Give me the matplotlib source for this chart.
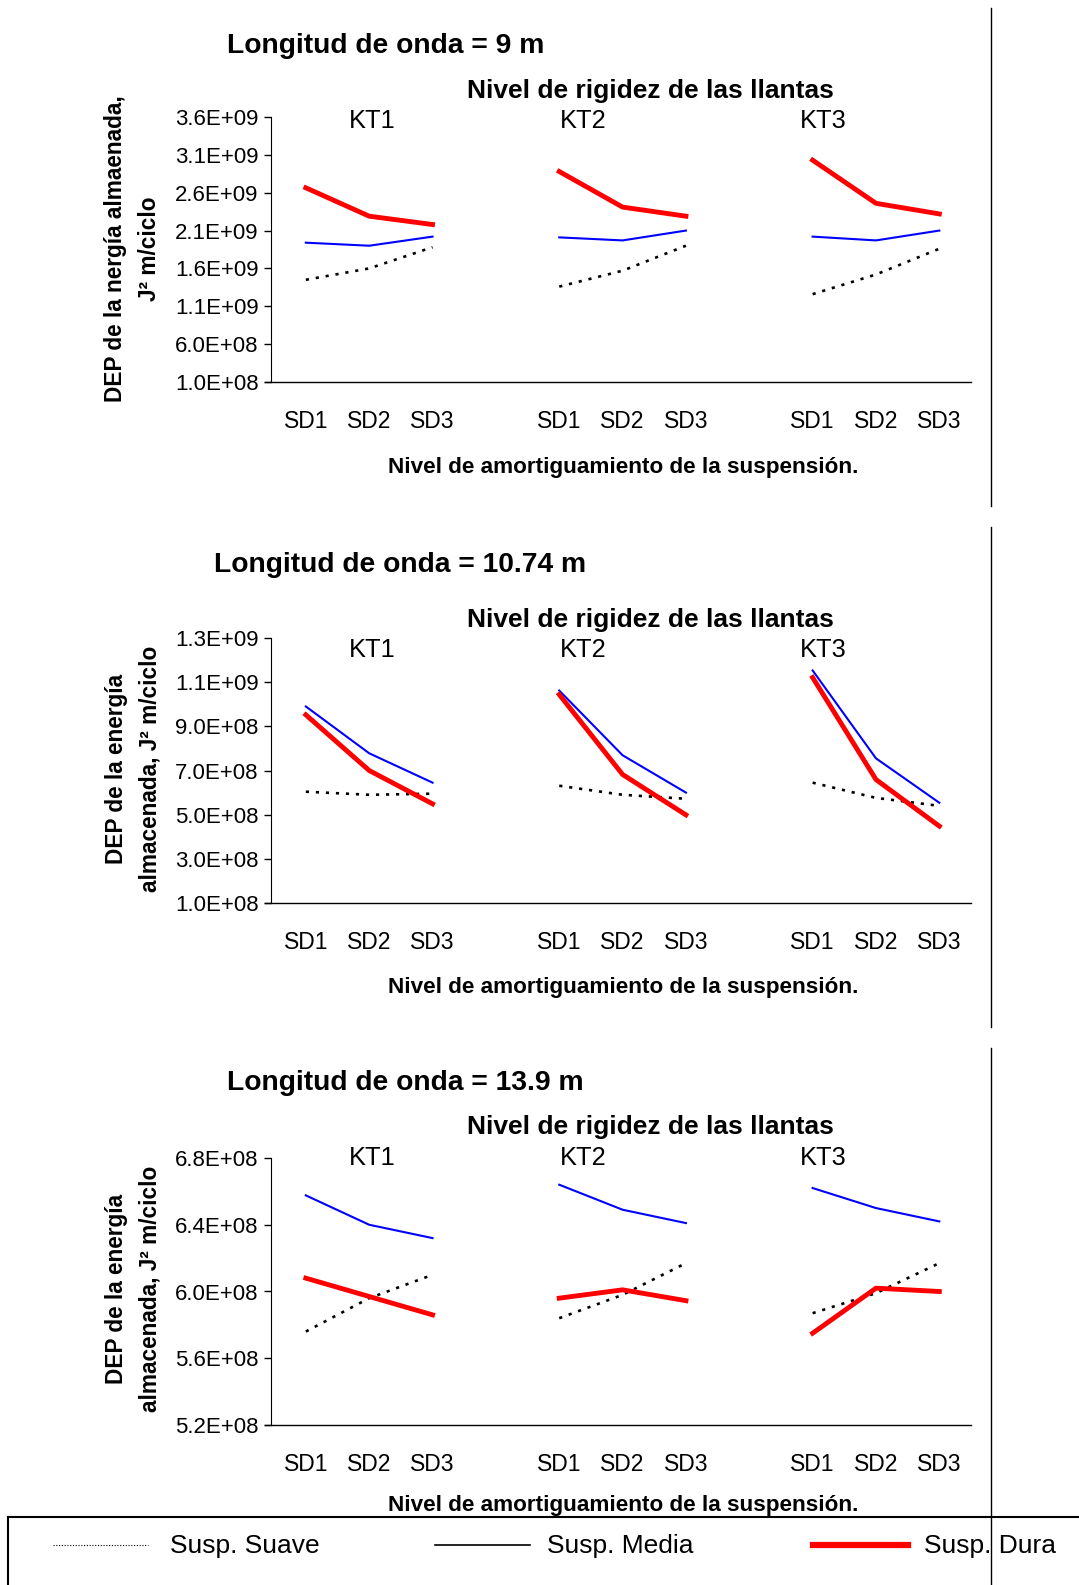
import numpy as np
import matplotlib
matplotlib.use('Agg')
import matplotlib.pyplot as plt
from matplotlib.lines import Line2D

plt.rcParams['font.family'] = ['Liberation Sans', 'DejaVu Sans']

# datos
niveles_sd = ['SD1', 'SD2', 'SD3']
niveles_kt = ['KT1', 'KT2', 'KT3']
longitudes = ['9 m', '10.74 m', '13.9 m']

# longitud de onda = 9 m
suave_9 = [1.45e9, 1.60e9, 1.88e9, 1.36e9, 1.57e9, 1.90e9, 1.26e9, 1.52e9, 1.86e9]
media_9 = [1.94e9, 1.90e9, 2.02e9, 2.01e9, 1.97e9, 2.10e9, 2.02e9, 1.97e9, 2.10e9]
dura_9 = [2.665e9, 2.29e9, 2.18e9, 2.88e9, 2.41e9, 2.29e9, 3.03e9, 2.46e9, 2.32e9]

# longitud de onda = 10.74 m
suave_10 = [6.04e8, 5.90e8, 5.95e8, 6.31e8, 5.90e8, 5.72e8, 6.45e8, 5.76e8, 5.40e8]
media_10 = [9.90e8, 7.78e8, 6.45e8, 10.62e8, 7.69e8, 6.00e8, 11.53e8, 7.55e8, 5.54e8]
dura_10 = [9.52e8, 7.00e8, 5.49e8, 10.44e8, 6.82e8, 4.99e8, 11.21e8, 6.59e8, 4.48e8]

# longitud de onda = 13.9 m
suave_13 = [5.76e8, 5.96e8, 6.10e8, 5.84e8, 5.98e8, 6.17e8, 5.87e8, 5.99e8, 6.17e8]
media_13 = [6.576e8, 6.40e8, 6.32e8, 6.64e8, 6.49e8, 6.41e8, 6.62e8, 6.50e8, 6.42e8]
dura_13 = [6.08e8, 5.97e8, 5.86e8, 5.96e8, 6.01e8, 5.945e8, 5.75e8, 6.02e8, 6.00e8]

ejes_y = [
    (1.0e8, 3.6e9, 5e8),
    (1.0e8, 1.3e9, 2e8),
    (5.2e8, 6.8e8, 4e7),
]
ylabels = [
    ('DEP de la nergía almaenada,', 'J² m/ciclo'),
    ('DEP de la energía', 'almacenada, J² m/ciclo'),
    ('DEP de la energía', 'almacenada, J² m/ciclo'),
]
series = [
    (suave_9, media_9, dura_9),
    (suave_10, media_10, dura_10),
    (suave_13, media_13, dura_13),
]

W, H = 1079, 1585
fig = plt.figure(figsize=(W / 100, H / 100), dpi=100)


def fx(x):
    return x / W


def fy(y):
    return 1 - y / H


# posiciones en pixeles de cada panel
ax_top = [117, 638, 1158]
ax_bot = [382, 903, 1425]
ax_left, ax_right = 271, 971
tit_x = [227, 214, 227]
tit_y = [46, 565, 1083]
niv_y = [91, 620, 1127]
kt_y = [121, 650, 1158]
xl_y = [467, 987, 1506]
yl_y = [249, 769, 1289]
kt_x = [372, 583, 823]

xpos = [1, 2, 3, 5, 6, 7, 9, 10, 11]

for p in range(3):
    ax = fig.add_axes([fx(ax_left), fy(ax_bot[p]),
                       fx(ax_right - ax_left), (ax_bot[p] - ax_top[p]) / H])
    suave, media, dura = series[p]
    for g in range(3):
        xs = xpos[g * 3:g * 3 + 3]
        ax.plot(xs, suave[g * 3:g * 3 + 3], color='black', lw=1.9,
                linestyle=(0, (1.2, 2.6)))
        ax.plot(xs, media[g * 3:g * 3 + 3], color='#0000ff', lw=1.5)
        ax.plot(xs, dura[g * 3:g * 3 + 3], color='#ff0000', lw=3.5)
    y0, y1, st = ejes_y[p]
    ax.set_ylim(y0, y1)
    ticks = np.arange(y0, y1 + st / 2, st)
    ax.set_yticks(ticks)
    ax.set_yticklabels([f'{t:.1E}' for t in ticks], fontsize=16)
    ax.set_xlim(0.45, 11.5)
    ax.set_xticks(xpos)
    ax.set_xticklabels(niveles_sd * 3, fontsize=16.5)
    ax.tick_params(axis='x', length=0, pad=20.5)
    ax.tick_params(axis='y', length=5, pad=4, width=1)
    ax.spines['top'].set_visible(False)
    ax.spines['right'].set_visible(False)
    ax.spines['bottom'].set_visible(False)
    ax.add_line(Line2D([-0.009, 1], [0, 0], transform=ax.transAxes,
                       color='black', lw=1, clip_on=False))
    ax.patch.set_alpha(0)

    fig.text(fx(tit_x[p]), fy(tit_y[p]), 'Longitud de onda = ' + longitudes[p],
             fontsize=20.3, fontweight='bold', ha='left', va='center')
    fig.text(fx(650), fy(niv_y[p]), 'Nivel de rigidez de las llantas',
             fontsize=19, fontweight='bold', ha='center', va='center')
    for k in range(3):
        fig.text(fx(kt_x[k]), fy(kt_y[p]), niveles_kt[k], fontsize=18.3,
                 ha='center', va='center')
    fig.text(fx(623), fy(xl_y[p]), 'Nivel de amortiguamiento de la suspensión.',
             fontsize=16.2, fontweight='bold', ha='center', va='center')
    fig.text(fx(116), fy(yl_y[p]), ylabels[p][0], rotation=90, fontsize=16.3,
             fontweight='bold', ha='center', va='center')
    fig.text(fx(150), fy(yl_y[p]), ylabels[p][1], rotation=90, fontsize=16.3,
             fontweight='bold', ha='center', va='center')

# lineas de borde de cada panel
for a, b in [(8, 506), (527, 1027), (1048, 1585)]:
    fig.add_artist(Line2D([fx(991), fx(991)], [fy(a), fy(b)], color='black', lw=1))

# leyenda
fig.add_artist(Line2D([fx(8), fx(1079)], [fy(1517), fy(1517)], color='black', lw=1.5))
fig.add_artist(Line2D([fx(8), fx(8)], [fy(1517), fy(1585)], color='black', lw=1.5))
fig.add_artist(Line2D([fx(53), fx(148)], [fy(1545), fy(1545)], color='black', lw=0.8,
                      linestyle=(0, (1, 1.5))))
fig.add_artist(Line2D([fx(435), fx(530)], [fy(1545), fy(1545)], color='black', lw=1.2))
fig.add_artist(Line2D([fx(813), fx(908)], [fy(1545), fy(1545)], color='#ff0000', lw=4.5))
fig.text(fx(170), fy(1546), 'Susp. Suave', fontsize=19, ha='left', va='center')
fig.text(fx(547), fy(1546), 'Susp. Media', fontsize=19, ha='left', va='center')
fig.text(fx(924), fy(1546), 'Susp. Dura', fontsize=19, ha='left', va='center')

fig.savefig('out.png', dpi=100)
